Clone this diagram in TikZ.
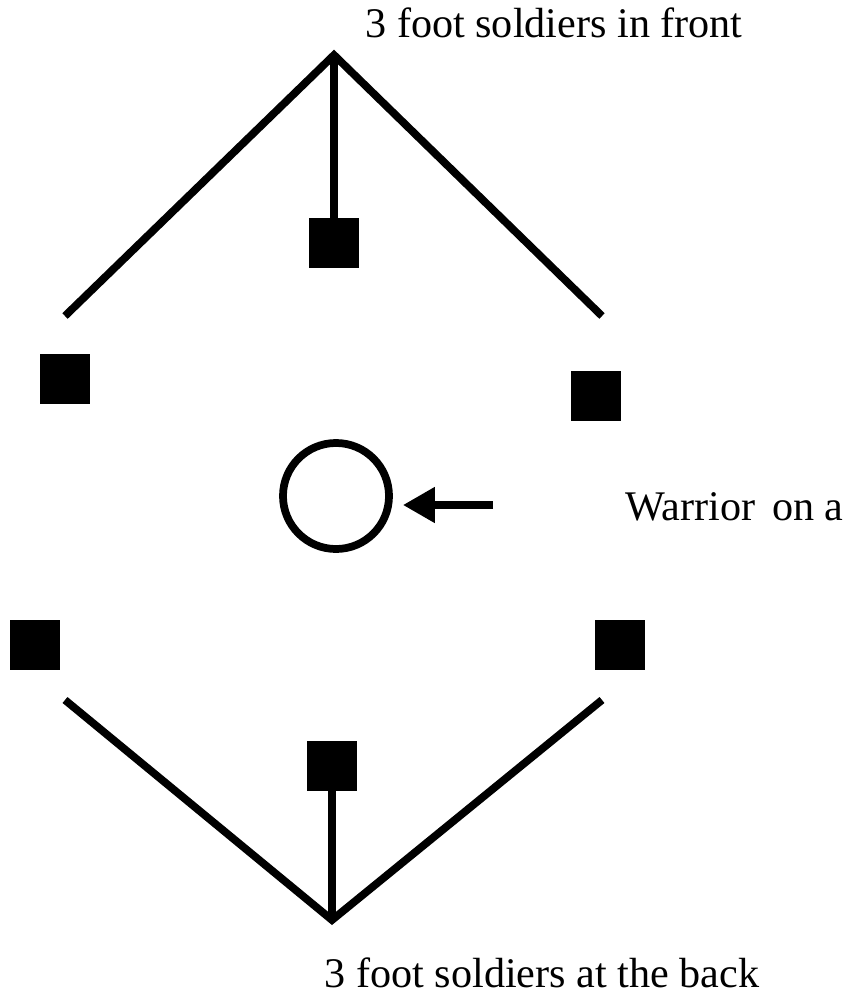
\documentclass[tikz,border=0pt]{standalone}
\usepackage{fontspec}
\setmainfont{Liberation Serif}
\usepackage{tikz}
\usetikzlibrary{arrows.meta, positioning}

\begin{document}
\begin{tikzpicture}[
    x=0.025cm, y=-0.025cm,
    soldier/.style={rectangle, fill=black, inner sep=0pt, minimum size=1.25cm},
    rider/.style={circle, draw=black, line width=5.5pt, inner sep=0pt, minimum size=2.65cm},
    rank/.style={line width=5.5pt},
    label/.style={font=\fontsize{30}{34}\selectfont, inner sep=0pt}
]
\useasboundingbox (0,0) rectangle (846,999);

% Front wedge
\coordinate (front) at (334,55);
\coordinate (frontleft) at (65,316);
\coordinate (frontright) at (602,316);
\node[soldier] (fmid) at (334,243) {};
\node[soldier] (fleft) at (65,379) {};
\node[soldier] (fright) at (596,396) {};
\draw[rank] (frontleft) -- (front) -- (frontright);
\draw[rank] (front) -- (fmid.north);

% Warrior
\node[rider] (warrior) at (336,496) {};
\coordinate (pointer) at (493,505);
\draw[rank, -{Triangle[length=0.8cm, width=0.85cm]}, shorten >=0.25cm] (pointer) -- (warrior.east |- pointer);

% Back wedge
\coordinate (back) at (332,920);
\coordinate (backleft) at (65,700);
\coordinate (backright) at (602,700);
\node[soldier] (bmid) at (332,766) {};
\node[soldier] (bleft) at (35,645) {};
\node[soldier] (bright) at (620,645) {};
\draw[rank] (backleft) -- (back) -- (backright);
\draw[rank] (back) -- (bmid.south);

% Labels
\node[label, anchor=base] (frontlabel) at (554,38) {3 foot soldiers in front};
\node[label, anchor=base west] (warriorlabel) at (625,520) {Warrior\hspace{0.4em}on a};
\node[label, anchor=base] (backlabel) at (542,987) {3 foot soldiers at the back};
\end{tikzpicture}
\end{document}
